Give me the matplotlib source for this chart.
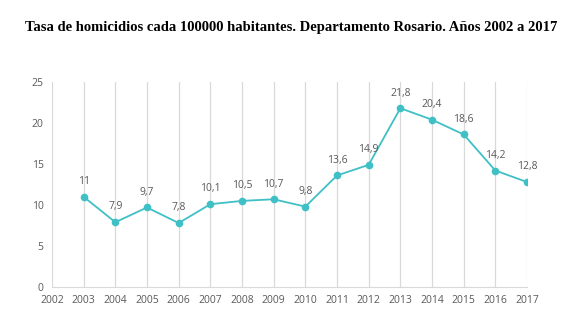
import matplotlib
matplotlib.use('Agg')
import matplotlib.pyplot as plt

years = list(range(2002, 2018))
data_years = list(range(2003, 2018))
rates = [11, 7.9, 9.7, 7.8, 10.1, 10.5, 10.7, 9.8, 13.6, 14.9, 21.8, 20.4, 18.6, 14.2, 12.8]
labels = ['11', '7,9', '9,7', '7,8', '10,1', '10,5', '10,7', '9,8', '13,6', '14,9',
          '21,8', '20,4', '18,6', '14,2', '12,8']

line_color = '#3FC0C6'
text_color = '#595959'

fig = plt.figure(figsize=(5.83, 3.28), dpi=100)
ax = fig.add_axes([0.0892, 0.125, 0.8148, 0.625])

ax.plot(data_years, rates, color=line_color, lw=1.3, marker='o', ms=4.5, zorder=3)
for x, y, t in zip(data_years, rates, labels):
    ax.annotate(t, (x, y), xytext=(0, 7), textcoords='offset points', ha='center',
                va='bottom', fontsize=7.5, color=text_color, family='Open Sans')

ax.set_xlim(2002, 2017)
ax.set_ylim(0, 25)
ax.set_xticks(years)
ax.set_yticks(range(0, 26, 5))
for y in years:
    ax.axvline(y, color='#D9D9D9', lw=0.9, zorder=1)
for s in ['top', 'right', 'left']:
    ax.spines[s].set_visible(False)
ax.spines['bottom'].set_color('#D9D9D9')
ax.tick_params(length=0, labelsize=7.5, labelcolor=text_color, pad=6)
for lbl in ax.get_xticklabels() + ax.get_yticklabels():
    lbl.set_family('Open Sans')

fig.text(0.5, 0.915, 'Tasa de homicidios cada 100000 habitantes. Departamento Rosario. Años 2002 a 2017',
         ha='center', va='center', fontsize=10.5, fontweight='bold', family='Liberation Serif')

fig.savefig('out.png', dpi=100)
